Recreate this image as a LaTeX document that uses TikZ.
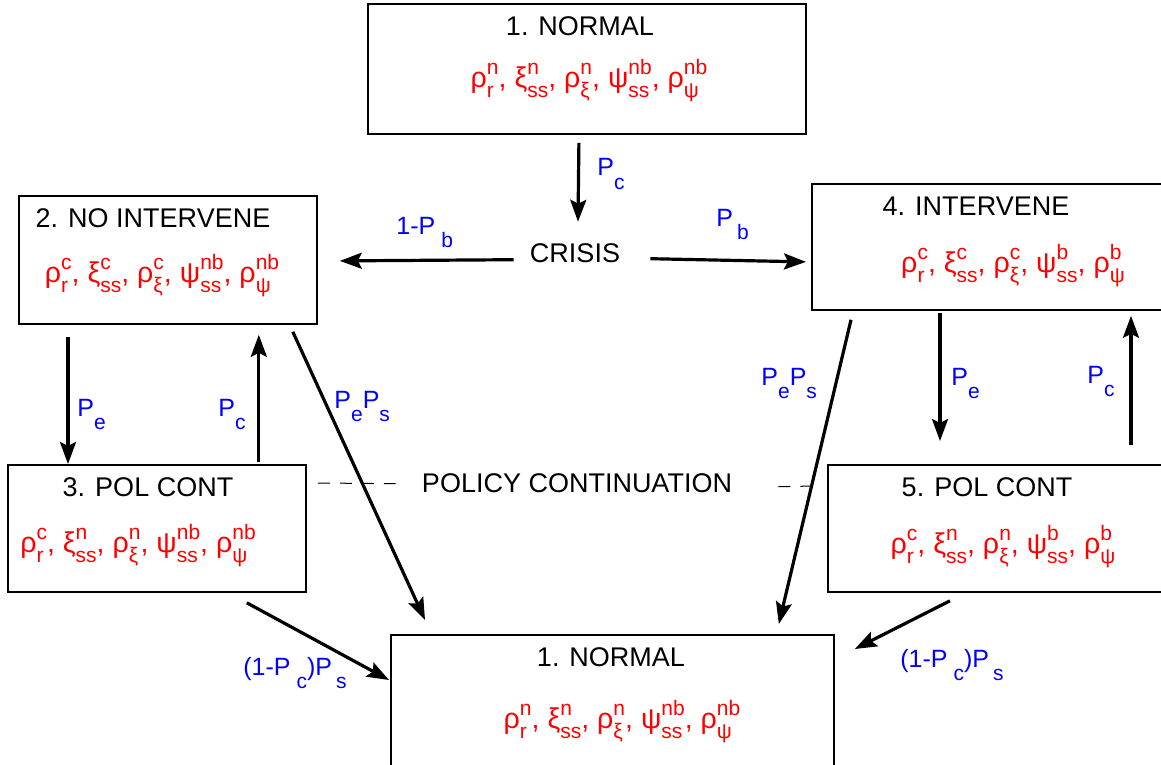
\documentclass[tikz,border=0pt]{standalone}
\usepackage{fontspec}
\setmainfont{Liberation Sans}
\usetikzlibrary{arrows.meta}
\newcommand{\sv}[3]{#1\setbox0\hbox{\raisebox{6.5pt}{\fontsize{10.5}{11}\selectfont#3}}\setbox2\hbox{\raisebox{-5pt}{\fontsize{10.5}{11}\selectfont#2}}\ifdim\wd0>\wd2 \rlap{\box2}\box0\else\rlap{\box0}\box2\fi}
\newcommand{\dn}[1]{\raisebox{-6.5pt}{\fontsize{10.5}{11}\selectfont#1}}

\begin{document}
\begin{tikzpicture}[x=0.5pt, y=-0.5pt,
        state/.style={draw, line width=0.9pt, inner sep=0, anchor=north west},
        title/.style={inner sep=0, anchor=base, font=\fontsize{13.5}{14}\selectfont},
        vals/.style={inner sep=0, anchor=base, text=red, font=\fontsize{14.3}{15}\selectfont},
        prob/.style={inner sep=0, anchor=base west, text=blue, font=\fontsize{12.5}{13}\selectfont},
        flow/.style={line width=1.6pt, -{Stealth[length=11pt, width=8pt, inset=2pt]}}]
            \useasboundingbox (0,0) rectangle (1161,765);

            \node[state, minimum width=219pt, minimum height=65pt] (n1) at (367,3) {};
            \node[state, minimum width=149pt, minimum height=64pt] (n2) at (18,195) {};
            \node[state, minimum width=176pt, minimum height=63pt] (n4) at (811,183) {};
            \node[state, minimum width=149pt, minimum height=63.5pt] (n3) at (7,464) {};
            \node[state, minimum width=168pt, minimum height=63.5pt] (n5) at (827,464) {};
            \node[state, minimum width=221.5pt, minimum height=70pt] (n6) at (390,634) {};

            \node[title] (n1t) at (580,36) {1. NORMAL};
            \node[vals] (n1v) at (589,88) {\sv{ρ}{r}{n}, \sv{ξ}{ss}{n}, \sv{ρ}{ξ}{n}, \sv{ψ}{ss}{nb}, \sv{ρ}{ψ}{nb}};
            \node[title] (n2t) at (153,227) {2. NO INTERVENE};
            \node[vals] (n2v) at (162,282) {\sv{ρ}{r}{c}, \sv{ξ}{ss}{c}, \sv{ρ}{ξ}{c}, \sv{ψ}{ss}{nb}, \sv{ρ}{ψ}{nb}};
            \node[title] (n4t) at (976,215) {4. INTERVENE};
            \node[vals] (n4v) at (1013,272) {\sv{ρ}{r}{c}, \sv{ξ}{ss}{c}, \sv{ρ}{ξ}{c}, \sv{ψ}{ss}{b}, \sv{ρ}{ψ}{b}};
            \node[title] (n3t) at (148,496) {3. POL CONT};
            \node[vals] (n3v) at (138,552) {\sv{ρ}{r}{c}, \sv{ξ}{ss}{n}, \sv{ρ}{ξ}{n}, \sv{ψ}{ss}{nb}, \sv{ρ}{ψ}{nb}};
            \node[title] (n5t) at (987,496) {5. POL CONT};
            \node[vals] (n5v) at (1003,553) {\sv{ρ}{r}{c}, \sv{ξ}{ss}{n}, \sv{ρ}{ξ}{n}, \sv{ψ}{ss}{b}, \sv{ρ}{ψ}{b}};
            \node[title] (n6t) at (611,666) {1. NORMAL};
            \node[vals] (n6v) at (622,728) {\sv{ρ}{r}{n}, \sv{ξ}{ss}{n}, \sv{ρ}{ξ}{n}, \sv{ψ}{ss}{nb}, \sv{ρ}{ψ}{nb}};

            \node[title] (crisis) at (575,262) {CRISIS};
            \node[title] (policy) at (577,492) {POLICY CONTINUATION};

            \draw[flow] ([xshift=-4pt, yshift=-4pt]n1.south) -- ([xshift=1.5pt, yshift=10.5pt]crisis.north);
            \draw[flow] ([xshift=-8pt, yshift=-3.5pt]crisis.west) -- ([xshift=11pt, yshift=-0.5pt]n2.east);
            \draw[flow] ([xshift=15pt, yshift=-3pt]crisis.east) -- ([xshift=-2.5pt, yshift=-7.5pt]n4.west);
            \draw[flow] ([xshift=25pt, yshift=-6pt]n2.south west) -- ([xshift=30.5pt]n3.north west);
            \draw[flow] ([xshift=-24pt, yshift=1pt]n3.north east) -- ([xshift=-29.5pt, yshift=-5pt]n2.south east);
            \draw[flow] ([xshift=-12.5pt, yshift=-3.5pt]n2.south east) -- ([xshift=17.5pt, yshift=7pt]n6.north west);
            \draw[flow] ([xshift=20pt, yshift=-4.5pt]n4.south west) -- ([xshift=-28pt, yshift=5pt]n6.north east);
            \draw[flow] ([xshift=64.5pt, yshift=-1pt]n4.south west) -- ([xshift=56.5pt, yshift=11.5pt]n5.north west);
            \draw[flow] ([xshift=152pt, yshift=9.5pt]n5.north west) -- ([xshift=160pt, yshift=-2.5pt]n4.south west);
            \draw[flow] ([xshift=-30pt, yshift=-5pt]n3.south east) -- ([xshift=-0.5pt, yshift=-23pt]n6.north west);
            \draw[flow] ([xshift=61.5pt, yshift=-4pt]n5.south west) -- ([xshift=10pt, yshift=-7.5pt]n6.north east);

            \draw[line width=0.5pt, dash pattern=on 6pt off 5pt] ([xshift=5.5pt, yshift=-9.5pt]n3.north east) -- ([xshift=-13pt, yshift=-0.5pt]policy.west);
            \draw[line width=0.5pt, dash pattern=on 6pt off 5pt] ([xshift=23pt, yshift=-2pt]policy.east) -- ([xshift=-6pt, yshift=-11pt]n5.north west);

            \node[prob] (pc1) at (597,176) {P\dn{c}};
            \node[prob] (pb2) at (396,234) {1-P\hspace{3pt}\dn{b}};
            \node[prob] (pb4) at (716,226) {P\hspace{2pt}\dn{b}};
            \node[prob] (pe2) at (77,416) {P\dn{e}};
            \node[prob] (pc3) at (218,416) {P\dn{c}};
            \node[prob] (pes2) at (334,408) {P\dn{e}P\dn{s}};
            \node[prob] (pes4) at (761,385) {P\dn{e}P\dn{s}};
            \node[prob] (pe4) at (951,385) {P\dn{e}};
            \node[prob] (pc5) at (1087,383) {P\dn{c}};
            \node[prob] (ps3) at (243,675) {(1-P\hspace{3pt}\dn{c})P\hspace{2pt}\dn{s}};
            \node[prob] (ps5) at (900,667) {(1-P\hspace{3pt}\dn{c})P\hspace{2pt}\dn{s}};
        \end{tikzpicture}
\end{document}
